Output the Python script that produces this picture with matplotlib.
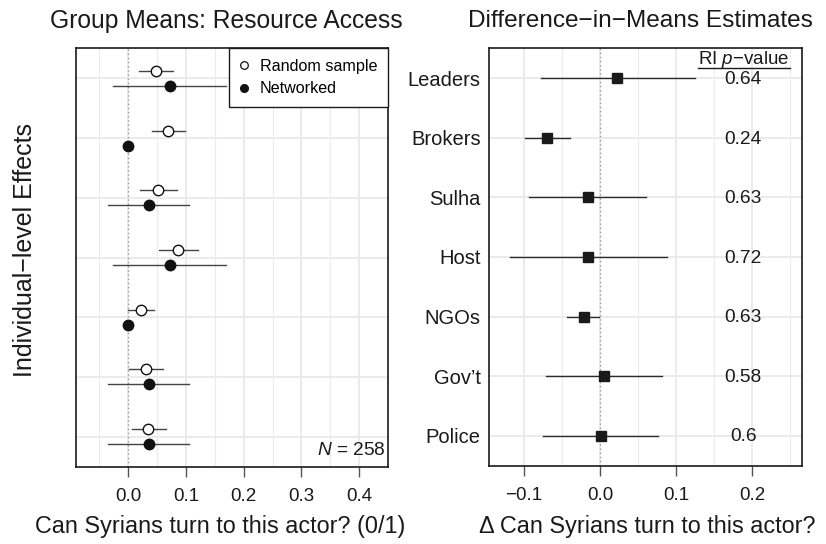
import matplotlib
matplotlib.use("Agg")
import matplotlib.pyplot as plt
from matplotlib.lines import Line2D
from matplotlib.ticker import FuncFormatter, FixedLocator

plt.rcParams['font.family'] = ['Liberation Sans', 'DejaVu Sans']
plt.rcParams['mathtext.fontset'] = 'custom'
plt.rcParams['mathtext.rm'] = 'Liberation Sans'
plt.rcParams['mathtext.it'] = 'Liberation Sans:italic'

# ---- data ----
actors = ["Leaders", "Brokers", "Sulha", "Host", "NGOs", "Gov\u2019t", "Police"]

rand_mean = [0.048, 0.069, 0.052, 0.087, 0.022, 0.031, 0.035]
rand_lo = [0.019, 0.041, 0.021, 0.053, 0.000, 0.001, 0.006]
rand_hi = [0.077, 0.099, 0.084, 0.121, 0.044, 0.060, 0.065]

net_mean = [0.072, 0.000, 0.036, 0.072, 0.000, 0.036, 0.036]
net_lo = [-0.026, 0.000, -0.035, -0.026, 0.000, -0.035, -0.035]
net_hi = [0.169, 0.000, 0.106, 0.169, 0.000, 0.106, 0.106]

diff_est = [0.023, -0.070, -0.016, -0.016, -0.021, 0.005, 0.001]
diff_lo = [-0.078, -0.099, -0.093, -0.119, -0.043, -0.071, -0.075]
diff_hi = [0.125, -0.040, 0.060, 0.088, -0.001, 0.082, 0.077]

pvals = ["0.64", "0.24", "0.63", "0.72", "0.63", "0.58", "0.6"]

left_ticks = [0.0, 0.1, 0.2, 0.3, 0.4]
right_ticks = [-0.1, 0.0, 0.1, 0.2]

n_obs = 258

# ---- figure ----
W, H = 826, 544
fig = plt.figure(figsize=(W / 100, H / 100), dpi=100)
axL = fig.add_axes([76 / W, 77 / H, 312 / W, 419 / H])
axR = fig.add_axes([489 / W, 78 / H, 313 / W, 418 / H])

rows = [len(actors) - i for i in range(len(actors))]
off = 0.126
grid_c = '#EBEBEB'

fmt = FuncFormatter(lambda v, p: f"{v:.1f}".replace('-', '\u2212'))


def style_axis(ax, xlim, major, minor):
    ax.set_xlim(*xlim)
    ax.set_ylim(0.49, 7.51)
    ax.xaxis.set_major_locator(FixedLocator(major))
    ax.xaxis.set_minor_locator(FixedLocator(minor))
    ax.xaxis.set_major_formatter(fmt)
    ax.set_yticks(rows)
    ax.grid(which='major', color=grid_c, lw=1.4, zorder=0)
    ax.grid(which='minor', axis='x', color=grid_c, lw=0.8, zorder=0)
    ax.set_axisbelow(True)
    for s in ax.spines.values():
        s.set_color('#1a1a1a')
        s.set_linewidth(1.2)
    ax.tick_params(axis='x', which='major', length=7, width=1.0, color='#555555',
                   labelsize=13.5, pad=8, labelcolor='#1a1a1a')
    ax.tick_params(axis='x', which='minor', length=0)
    ax.tick_params(axis='y', length=0)
    ax.axvline(0, color='#999999', lw=1.0, ls=(0, (1, 2)), zorder=1)


# left panel
style_axis(axL, (-0.0906, 0.450), left_ticks, [-0.05, 0.05, 0.15, 0.25, 0.35, 0.45])
axL.set_yticklabels([])
for i, y in enumerate(rows):
    axL.plot([rand_lo[i], rand_hi[i]], [y + off, y + off], color='#444444', lw=1.0, zorder=2)
    axL.plot([net_lo[i], net_hi[i]], [y - off, y - off], color='#444444', lw=1.0, zorder=2)
axL.plot(rand_mean, [y + off for y in rows], 'o', ms=7.5, mfc='white', mec='#111111',
         mew=1.0, ls='none', zorder=3)
axL.plot(net_mean, [y - off for y in rows], 'o', ms=7.5, mfc='#111111', mec='#111111',
         ls='none', zorder=3)

handles = [Line2D([], [], marker='o', ls='none', ms=5.5, mfc='white', mec='#111111', mew=0.9),
           Line2D([], [], marker='o', ls='none', ms=5.5, mfc='#111111', mec='#111111')]
leg = axL.legend(handles, ["Random sample", "Networked"], loc='upper right',
                 borderaxespad=0, fontsize=11.6, frameon=True, fancybox=False,
                 framealpha=1, edgecolor='#1a1a1a', handlelength=0.5,
                 handletextpad=0.7, borderpad=0.68, labelspacing=0.45)
leg.get_frame().set_linewidth(1.0)

axL.text(0.992, 0.018, f"$N$ = {n_obs}", transform=axL.transAxes, ha='right',
         va='bottom', fontsize=13.8, color='#1a1a1a')

# right panel
style_axis(axR, (-0.1462, 0.266), right_ticks, [-0.05, 0.05, 0.15, 0.25])
axR.set_yticklabels(actors, fontsize=14.5, color='#1a1a1a')
axR.tick_params(axis='y', pad=6)
for i, y in enumerate(rows):
    axR.plot([diff_lo[i], diff_hi[i]], [y, y], color='#2b2b2b', lw=1.0, zorder=2)
axR.plot(diff_est, rows, 's', ms=7, mfc='#1a1a1a', mec='#1a1a1a', ls='none', zorder=3)
for i, y in enumerate(rows):
    axR.text(0.1885, y - 0.02, pvals[i], ha='center', va='center', fontsize=13.8,
             color='#1a1a1a')
axR.text(0.1895, 7.235, "RI $p$\u2212value", ha='center', va='baseline',
         fontsize=13.5, color='#1a1a1a')
axR.plot([0.129, 0.250], [7.18, 7.18], color='#1a1a1a', lw=1.0, clip_on=False, zorder=4)

# titles and labels
fig.text(226 / W, 1 - 21 / H, "Group Means: Resource Access", ha='center', va='center',
         fontsize=17.7, color='#1a1a1a')
fig.text(640 / W, 1 - 21 / H, "Difference\u2212in\u2212Means Estimates", ha='center',
         va='center', fontsize=17.6, color='#1a1a1a')
fig.text(25 / W, 1 - 250 / H, "Individual\u2212level Effects", rotation=90, ha='center',
         va='center', fontsize=18, color='#1a1a1a')
fig.text(220 / W, 1 - 526 / H, "Can Syrians turn to this actor? (0/1)", ha='center',
         va='center', fontsize=16.8, color='#1a1a1a')
fig.text(647 / W, 1 - 526 / H, "\u0394 Can Syrians turn to this actor?", ha='center',
         va='center', fontsize=16.8, color='#1a1a1a')

fig.savefig("out.png", dpi=100, facecolor='white')
